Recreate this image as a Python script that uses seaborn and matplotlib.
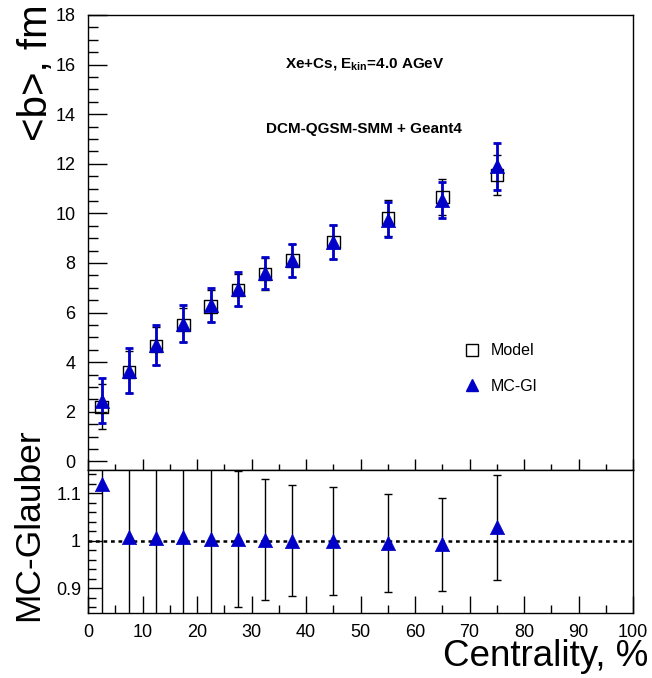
import numpy as np
import pandas as pd
import matplotlib.pyplot as plt
from matplotlib.lines import Line2D
from matplotlib.ticker import MultipleLocator
import seaborn as sns

centrality = [2.5, 7.5, 12.5, 17.5, 22.5, 27.5, 32.5, 37.5, 45, 55, 65, 75]
b_model = [2.2, 3.6, 4.65, 5.5, 6.25, 6.9, 7.55, 8.1, 8.85, 9.8, 10.65, 11.55]
b_model_err = [0.9, 0.85, 0.75, 0.7, 0.65, 0.65, 0.65, 0.65, 0.7, 0.72, 0.72, 0.8]
b_mcgl = [2.45, 3.65, 4.7, 5.55, 6.3, 6.95, 7.6, 8.1, 8.85, 9.75, 10.55, 11.9]
b_mcgl_err = [0.9, 0.9, 0.8, 0.75, 0.7, 0.7, 0.65, 0.65, 0.7, 0.72, 0.73, 0.95]
ratio = [1.12, 1.007, 1.006, 1.007, 1.004, 1.004, 1.002, 1.0, 0.999, 0.996, 0.993, 1.028]
ratio_err = [0.5, 0.4, 0.3, 0.25, 0.2, 0.143, 0.127, 0.117, 0.114, 0.103, 0.098, 0.11]

df = pd.DataFrame({'c': centrality, 'model': b_model, 'mcgl': b_mcgl, 'ratio': ratio})

sns.set_style('ticks')
plt.rcParams['font.family'] = ['Liberation Sans', 'DejaVu Sans']
plt.rcParams['mathtext.fontset'] = 'custom'
plt.rcParams['mathtext.rm'] = 'Liberation Sans'
plt.rcParams['mathtext.bf'] = 'Liberation Sans:bold'
for k in ('text.color', 'xtick.color', 'ytick.color', 'axes.labelcolor', 'axes.edgecolor'):
    plt.rcParams[k] = 'black'

blue = '#0000c8'
fig = plt.figure(figsize=(6.52, 6.78), dpi=100)
ax1 = fig.add_axes([0.135, 0.3068, 0.836, 0.6711])
ax2 = fig.add_axes([0.135, 0.0959, 0.836, 0.2109])

# upper panel
ax1.errorbar(centrality, b_model, yerr=b_model_err, fmt='none', ecolor='black',
             elinewidth=1.0, capsize=3, capthick=1.0, zorder=2)
ax1.errorbar(centrality, b_mcgl, yerr=b_mcgl_err, fmt='none', ecolor=blue,
             elinewidth=2.0, capsize=3, capthick=2.0, zorder=3)
sns.scatterplot(data=df, x='c', y='model', ax=ax1, marker='s', s=80,
                facecolor='none', edgecolor='black', linewidth=1.0, zorder=4)
sns.scatterplot(data=df, x='c', y='mcgl', ax=ax1, marker='^', s=105,
                color=blue, edgecolor=blue, linewidth=0.5, zorder=5)
ax1.set_xlim(0, 100)
ax1.set_ylim(-0.35, 18)
ax1.set_xlabel('')
ax1.set_ylabel('')
ax1.set_xticklabels([])
ax1.yaxis.set_major_locator(MultipleLocator(2))
ax1.yaxis.set_minor_locator(MultipleLocator(0.5))
ax1.xaxis.set_major_locator(MultipleLocator(10))
ax1.xaxis.set_minor_locator(MultipleLocator(5))
ax1.tick_params(axis='y', which='major', direction='in', length=13.5, labelsize=13,
                width=1, pad=9)
ax1.tick_params(axis='y', which='minor', direction='in', length=7, width=1)
ax1.tick_params(axis='x', which='major', direction='in', length=8, width=1, labelbottom=False)
ax1.tick_params(axis='x', which='minor', direction='in', length=4, width=1)

ax1.text(50.8, 16.0, r'Xe+Cs, E$_{\mathbf{kin}}$=4.0 AGeV', fontsize=11,
         fontweight='bold', ha='center', va='center')
ax1.text(50.6, 13.4, 'DCM-QGSM-SMM + Geant4', fontsize=11,
         fontweight='bold', ha='center', va='center')

handles = [
    Line2D([], [], marker='s', linestyle='none', markersize=8.5, markerfacecolor='none',
           markeredgecolor='black', markeredgewidth=1.0),
    Line2D([], [], marker='^', linestyle='none', markersize=8.5, color=blue),
]
ax1.legend(handles, ['Model', 'MC-Gl'], frameon=False, fontsize=11.5,
           loc='upper left', bbox_to_anchor=(0.66, 0.31), labelspacing=1.3,
           handletextpad=0.6, handlelength=1.2)

# lower panel
ax2.axhline(1.0, color='black', linestyle=(0, (1.5, 1.5)), linewidth=1.8, zorder=1)
ax2.errorbar(centrality, ratio, yerr=ratio_err, fmt='none', ecolor='black',
             elinewidth=1.0, capsize=3, capthick=1.0, zorder=2)
sns.scatterplot(data=df, x='c', y='ratio', ax=ax2, marker='^', s=105,
                color=blue, edgecolor=blue, linewidth=0.5, zorder=5)
ax2.set_xlim(0, 100)
ax2.set_ylim(0.848, 1.149)
ax2.set_xlabel('')
ax2.set_ylabel('')
ax2.xaxis.set_major_locator(MultipleLocator(10))
ax2.xaxis.set_minor_locator(MultipleLocator(5))
ax2.yaxis.set_major_locator(MultipleLocator(0.1))
ax2.yaxis.set_minor_locator(MultipleLocator(0.02))
ax2.set_yticks([0.9, 1.0, 1.1])
ax2.set_yticklabels(['0.9', '1', '1.1'])
ax2.tick_params(axis='x', which='major', direction='in', length=12, labelsize=13,
                width=1, pad=8)
ax2.tick_params(axis='x', which='minor', direction='in', length=6, width=1)
ax2.tick_params(axis='y', which='major', direction='in', length=10, labelsize=13,
                width=1, pad=5)
ax2.tick_params(axis='y', which='minor', direction='in', length=5.5, width=1)

for a in (ax1, ax2):
    for s in a.spines.values():
        s.set_linewidth(1.0)
        s.set_color('black')

fig.text(0.055, 1 - 4 / 678, '<b>, fm', rotation=90, fontsize=29, ha='center', va='top')
fig.text(0.0445, 0.226, 'MC-Glauber', rotation=90, fontsize=25.5, ha='center', va='center')
fig.text(0.995, 0.017, 'Centrality, %', fontsize=26.5, ha='right', va='baseline')

fig.savefig('out.png', dpi=100)
